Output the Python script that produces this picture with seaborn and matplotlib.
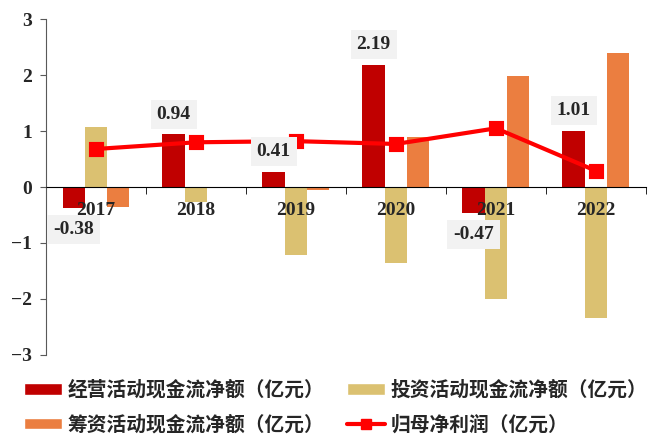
import matplotlib
matplotlib.use("Agg")
import matplotlib.pyplot as plt
import numpy as np
import pandas as pd
import seaborn as sns
from matplotlib.lines import Line2D
from matplotlib.patches import Patch

years = ["2017", "2018", "2019", "2020", "2021", "2022"]
operating = [-0.38, 0.94, 0.27, 2.19, -0.47, 1.01]
operating_labels = ["-0.38", "0.94", "0.41", "2.19", "-0.47", "1.01"]
investing = [1.07, -0.27, -1.21, -1.35, -2.00, -2.34]
financing = [-0.36, -0.01, -0.05, 0.89, 1.98, 2.40]
profit = [0.68, 0.80, 0.82, 0.77, 1.05, 0.29]

series_names = [
    "经营活动现金流净额（亿元）",
    "投资活动现金流净额（亿元）",
    "筹资活动现金流净额（亿元）",
]
line_name = "归母净利润（亿元）"
colors = ["#C00000", "#DBC171", "#EB7E40"]
line_color = "#FF0000"


def main() -> None:
    sns.set_style("ticks")
    plt.rcParams["font.family"] = ["Liberation Serif", "Noto Sans CJK SC", "DejaVu Sans"]
    plt.rcParams["font.weight"] = "bold"

    df = pd.DataFrame(
        {
            "year": years * 3,
            "value": operating + investing + financing,
            "series": [n for n in series_names for _ in years],
        }
    )

    fig = plt.figure(figsize=(6.6, 4.36), dpi=100)
    ax = fig.add_axes([0.0697, 0.186, 0.909, 0.770])

    sns.barplot(
        data=df, x="year", y="value", hue="series", order=years,
        hue_order=series_names, palette=colors, width=0.67, saturation=1,
        edgecolor="none", ax=ax, legend=False,
    )
    sns.pointplot(
        x=years, y=profit, order=years, color=line_color, markers="s",
        markersize=9, linewidth=3, ax=ax, zorder=5,
    )
    ax.set_axisbelow(False)

    ax.set_xlim(-0.5, 5.5)
    ax.set_ylim(-3, 3)
    ax.set_yticks([-3, -2, -1, 0, 1, 2, 3])
    ax.set_xlabel("")
    ax.set_ylabel("")

    for sp in ["top", "right"]:
        ax.spines[sp].set_visible(False)
    ax.spines["bottom"].set_position(("data", 0))
    ax.spines["bottom"].set_color("black")
    ax.spines["left"].set_color("#595959")

    ax.tick_params(axis="y", direction="out", length=4, color="#595959",
                   labelsize=14, pad=6)
    ax.tick_params(axis="x", which="major", length=0, labelsize=14, pad=11)
    ax.set_xticks(np.arange(0.5, 6.0, 1.0), minor=True)
    ax.tick_params(axis="x", which="minor", direction="out", length=5, color="black")
    for lbl in ax.get_xticklabels() + ax.get_yticklabels():
        lbl.set_fontweight("bold")

    # data labels of operating cash flow
    offset = 0.67 / 3
    for i, (v, t) in enumerate(zip(operating, operating_labels)):
        y = v + 0.36 if v >= 0 else v - 0.38
        ax.text(i - offset, y, t, ha="center", va="center", fontsize=14,
                fontweight="bold", zorder=6,
                bbox=dict(boxstyle="square,pad=0.3", facecolor="#F2F2F2",
                          edgecolor="none"))

    handles = [
        Patch(facecolor=colors[0], label=series_names[0]),
        Patch(facecolor=colors[2], label=series_names[2]),
        Patch(facecolor=colors[1], label=series_names[1]),
        Line2D([], [], color=line_color, lw=3, marker="s", markersize=7,
               label=line_name),
    ]
    fig.legend(
        handles=handles, loc="lower left", bbox_to_anchor=(0.01, -0.04),
        ncol=2, frameon=False, handlelength=1.9,
        handleheight=0.5, handletextpad=0.3, columnspacing=1.15,
        labelspacing=0.75, prop={"weight": "bold", "size": 14.2},
    )

    fig.savefig("out.png", dpi=100)
    plt.close(fig)


if __name__ == "__main__":
    main()
